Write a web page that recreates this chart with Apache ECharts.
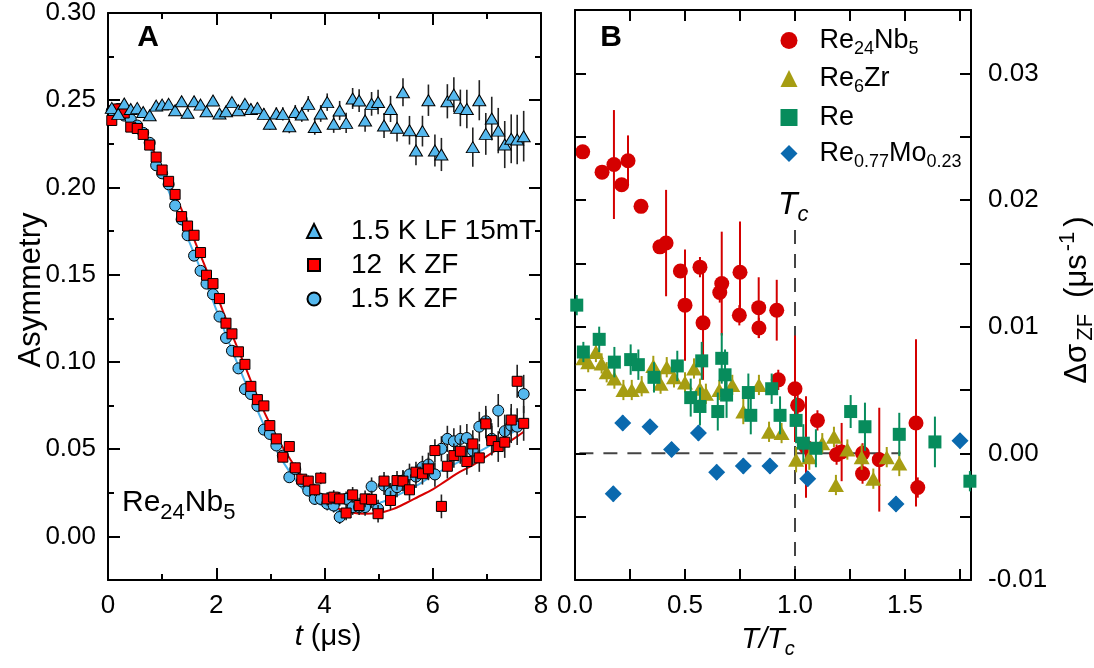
<!DOCTYPE html>
<html><head><meta charset="utf-8">
<script src="https://cdn.jsdelivr.net/npm/echarts@6/dist/echarts.min.js"></script>
<style>html,body{margin:0;padding:0;background:#fff}#c{width:1094px;height:668px}</style>
</head><body><div id="c"></div>
<script>
// ---------- Panel A data ----------
const tA = [0.07,0.19,0.30,0.42,0.54,0.65,0.77,0.89,1.00,1.12,1.24,1.36,1.47,1.59,1.71,1.82,1.94,2.06,2.18,2.29,2.41,2.53,2.64,2.76,2.88,2.99,3.11,3.23,3.35,3.46,3.58,3.70,3.82,3.93,4.05,4.17,4.28,4.40,4.52,4.64,4.75,4.87,4.99,5.10,5.22,5.34,5.45,5.57,5.69,5.81,5.92,6.04,6.16,6.27,6.39,6.51,6.63,6.74,6.86,6.98,7.09,7.21,7.33,7.45,7.56,7.68];
const lfTri = [0.2456,0.2422,0.2481,0.2450,0.2456,0.2433,0.2414,0.2469,0.2475,0.2479,
  0.2443,0.2494,0.2428,0.2494,0.2475,0.2437,0.2498,0.2424,0.2437,0.2489,
  0.2443,0.2479,0.2450,0.2456,0.2422,0.2365,0.2424,0.2422,0.2351,0.2433,
  0.2418,0.2479,0.2347,0.2424,0.2489,0.2365,0.2441,0.2370,0.2510,0.2498,
  0.2384,0.2479,0.2490,0.2355,0.2450,0.2342,0.2546,0.2328,0.2212,0.2323,
  0.2500,0.2212,0.2189,0.2494,0.2532,0.2456,0.2450,0.2231,0.2500,0.2307,
  0.2395,0.2326,0.2246,0.2279,0.2275,0.2294];
const lfTriErr = [0.0012,0.0012,0.0012,0.0012,0.0012,0.0012,0.0012,0.0012,0.0012,0.0012,
  0.0015,0.0015,0.0018,0.0018,0.0020,0.0020,0.0020,0.0022,0.0022,0.0025,
  0.0025,0.0028,0.0030,0.0030,0.0032,0.0035,0.0035,0.0038,0.0040,0.0040,
  0.0042,0.0045,0.0045,0.0048,0.0050,0.0052,0.0055,0.0058,0.0060,0.0065,
  0.0065,0.0068,0.0070,0.0072,0.0075,0.0078,0.0080,0.0082,0.0085,0.0088,
  0.0090,0.0092,0.0095,0.0098,0.0100,0.0105,0.0110,0.0112,0.0115,0.0120,
  0.0125,0.0130,0.0135,0.0140,0.0142,0.0145];
const zf12 = [0.2384,0.2450,0.2427,0.2346,0.2338,0.2304,0.2243,0.2174,0.2100,0.2035,
  0.1960,0.1833,0.1779,0.1726,0.1627,0.1497,0.1449,0.1363,0.1222,0.1161,
  0.1058,0.0986,0.0860,0.0784,0.0748,0.0635,0.0559,0.0454,0.0515,0.0393,
  0.0328,0.0317,0.0267,0.0334,0.0215,0.0225,0.0215,0.0134,0.0238,0.0177,
  0.0215,0.0212,0.0130,0.0317,0.0206,0.0320,0.0317,0.0267,0.0368,0.0359,
  0.0387,0.0492,0.0172,0.0402,0.0463,0.0488,0.0429,0.0530,0.0450,0.0645,
  0.0549,0.0515,0.0540,0.0667,0.0889,0.0648];
const zf12Err = [0.0010,0.0010,0.0010,0.0010,0.0010,0.0010,0.0010,0.0010,0.0010,0.0010,
  0.0012,0.0012,0.0012,0.0012,0.0012,0.0012,0.0012,0.0012,0.0012,0.0012,
  0.0015,0.0015,0.0018,0.0020,0.0020,0.0022,0.0025,0.0025,0.0028,0.0030,
  0.0030,0.0032,0.0035,0.0035,0.0038,0.0040,0.0040,0.0042,0.0045,0.0045,
  0.0048,0.0050,0.0050,0.0052,0.0055,0.0055,0.0058,0.0060,0.0060,0.0062,
  0.0065,0.0065,0.0068,0.0070,0.0070,0.0072,0.0075,0.0078,0.0080,0.0082,
  0.0085,0.0088,0.0090,0.0092,0.0095,0.0100];
const zf15 = [0.2440,0.2450,0.2412,0.2390,0.2355,0.2313,0.2256,0.2127,0.2081,0.2018,
  0.1896,0.1817,0.1726,0.1609,0.1522,0.1449,0.1388,0.1260,0.1137,0.1064,
  0.0963,0.0844,0.0816,0.0748,0.0612,0.0587,0.0521,0.0463,0.0339,0.0385,
  0.0315,0.0263,0.0215,0.0215,0.0187,0.0177,0.0111,0.0215,0.0168,0.0168,
  0.0168,0.0286,0.0158,0.0292,0.0248,0.0282,0.0320,0.0355,0.0343,0.0397,
  0.0412,0.0355,0.0502,0.0559,0.0545,0.0559,0.0564,0.0492,0.0629,0.0660,
  0.0559,0.0721,0.0603,0.0635,0.0629,0.0816];
const zf15Err = [0.0010,0.0010,0.0010,0.0010,0.0010,0.0010,0.0010,0.0010,0.0010,0.0010,
  0.0012,0.0012,0.0012,0.0012,0.0012,0.0012,0.0012,0.0012,0.0012,0.0012,
  0.0015,0.0015,0.0018,0.0020,0.0020,0.0022,0.0025,0.0025,0.0028,0.0030,
  0.0030,0.0032,0.0035,0.0035,0.0038,0.0040,0.0040,0.0042,0.0045,0.0045,
  0.0050,0.0052,0.0052,0.0055,0.0058,0.0058,0.0060,0.0062,0.0065,0.0065,
  0.0068,0.0070,0.0072,0.0075,0.0075,0.0078,0.0080,0.0082,0.0085,0.0088,
  0.0090,0.0095,0.0095,0.0100,0.0105,0.0110];
const fitT12 = [0,0.25,0.5,0.75,1,1.25,1.5,1.75,2,2.25,2.5,2.75,3,3.25,3.5,3.75,4,4.25,4.5,4.75,5,5.25,5.5,5.75,6,6.25,6.5,6.75,7,7.25,7.5,7.68];
const fit12 = [0.245,0.243,0.237,0.226,0.211,0.195,0.177,0.158,0.139,0.119,0.100,0.081,0.064,0.050,0.038,0.028,0.020,0.016,0.0137,0.0130,0.0135,0.0155,0.019,0.023,0.027,0.032,0.037,0.041,0.046,0.051,0.056,0.060];
const fitT15 = [0,0.25,0.5,0.75,1,1.25,1.5,1.75,2,2.25,2.5,2.75,3,3.25,3.5,3.75,4,4.25,4.5,4.75,5,5.25,5.5,5.75,6,6.25,6.5,6.75,7,7.25,7.5,7.65];
const fit15 = [0.245,0.243,0.236,0.224,0.207,0.188,0.169,0.150,0.130,0.110,0.091,0.073,0.056,0.042,0.031,0.022,0.017,0.0145,0.0145,0.016,0.019,0.022,0.026,0.030,0.035,0.039,0.043,0.047,0.051,0.056,0.060,0.063];

// ---------- Panel B data ----------
const nbX = [0.035,0.123,0.177,0.212,0.241,0.300,0.386,0.414,0.479,0.500,0.568,0.582,0.658,0.667,0.747,0.750,0.835,0.836,0.917,0.924,1.000,1.012,1.050,1.102,1.189,1.212,1.307,1.307,1.383,1.550,1.558];
const nbY = [0.0238,0.0222,0.0228,0.0212,0.0231,0.0195,0.0163,0.0166,0.0144,0.0117,0.0147,0.0103,0.0127,0.0134,0.0109,0.0143,0.0115,0.0099,0.0113,0.0058,0.0051,0.0038,0.0005,0.0026,-0.0001,0.0001,0.0000,-0.0016,-0.0005,0.0024,-0.0027];
const nbE = [0.0003,0.0005,0.0043,0.0005,0.0020,0.0005,0.0005,0.0042,0.0005,0.0044,0.0008,0.0045,0.0008,0.0041,0.0008,0.0040,0.0024,0.0008,0.0024,0.0008,0.0042,0.0008,0.0040,0.0008,0.0008,0.0023,0.0008,0.0008,0.0041,0.0066,0.0008];
const zrX = [0.038,0.060,0.095,0.121,0.144,0.179,0.220,0.258,0.303,0.356,0.389,0.417,0.450,0.500,0.541,0.568,0.595,0.656,0.715,0.765,0.836,0.882,0.939,1.005,1.065,1.124,1.177,1.186,1.238,1.303,1.356,1.417,1.474];
const zrY = [0.0075,0.0072,0.0080,0.0071,0.0064,0.0059,0.0050,0.0050,0.0053,0.0069,0.0055,0.0068,0.0060,0.0056,0.0067,0.0051,0.0047,0.0050,0.0054,0.0033,0.0054,0.0017,0.0016,-0.0005,-0.0003,0.0008,0.0013,-0.0025,0.0003,-0.0003,-0.0020,-0.0003,-0.0008];
const zrE = [0.0008,0.0008,0.0008,0.0008,0.0008,0.0008,0.0008,0.0008,0.0008,0.0008,0.0008,0.0008,0.0008,0.0008,0.0008,0.0008,0.0008,0.0008,0.0008,0.0010,0.0008,0.0008,0.0008,0.0010,0.0010,0.0008,0.0008,0.0008,0.0008,0.0010,0.0008,0.0008,0.0010];
const reX = [0.008,0.038,0.110,0.179,0.253,0.288,0.359,0.465,0.526,0.568,0.576,0.649,0.667,0.682,0.689,0.788,0.799,0.894,0.932,1.005,1.038,1.095,1.253,1.318,1.474,1.636,1.795];
const reY = [0.0117,0.0080,0.0090,0.0072,0.0074,0.0070,0.0060,0.0069,0.0044,0.0037,0.0073,0.0033,0.0075,0.0062,0.0046,0.0048,0.0030,0.0051,0.0030,0.0026,0.0008,0.0004,0.0033,0.0021,0.0015,0.0009,-0.0022];
const reE = [0.0008,0.0008,0.0010,0.0012,0.0012,0.0012,0.0012,0.0012,0.0015,0.0015,0.0015,0.0015,0.0020,0.0020,0.0018,0.0015,0.0015,0.0012,0.0015,0.0018,0.0015,0.0015,0.0013,0.0019,0.0017,0.0020,0.0008];
const moX = [0.174,0.217,0.341,0.439,0.561,0.644,0.765,0.886,1.058,1.459,1.750];
const moY = [-0.0032,0.0024,0.0021,0.0003,0.0016,-0.0015,-0.0010,-0.0010,-0.0020,-0.0040,0.0010];
const moE = [0.0006,0.0006,0.0006,0.0006,0.0006,0.0006,0.0006,0.0006,0.0006,0.0006,0.0006];

// tick labels
const ticksAx = [0,2,4,6,8];
const ticksAy = [0,0.05,0.10,0.15,0.20,0.25,0.30];
const ticksBx = [0,0.5,1.0,1.5];
const ticksBy = [-0.01,0,0.01,0.02,0.03];

// ---------- helpers ----------
const FONT = "'Liberation Sans', Arial, sans-serif";
const NARROW = "'Liberation Sans Narrow', 'Liberation Sans', Arial, sans-serif";
const BLK = '#000';

function axis(o) {
  return {
    type: 'value', gridIndex: o.grid, position: o.pos, min: o.min, max: o.max,
    interval: o.interval,
    splitLine: {show: false},
    axisLine: {show: o.line !== false, onZero: false, lineStyle: {color: BLK, width: 2}},
    axisTick: Object.assign({show: true, inside: true, length: o.tick || 6, lineStyle: {color: BLK, width: 2}},
      o.tickValues ? {customValues: o.tickValues} : {}),
    axisLabel: o.labels ? {show: true, customValues: o.labels, color: BLK,
      fontFamily: o.font || FONT, fontSize: o.fontSize || 26, margin: o.margin || 12,
      formatter: o.fmt} : {show: false},
    z: 5
  };
}
function pts(xs, ys) { return xs.map((x, i) => [x, ys[i]]); }
function errSeries(xs, ys, es, color, width, xi, yi, z) {
  return {
    type: 'custom', xAxisIndex: xi, yAxisIndex: yi, z: z, silent: true, clip: true,
    data: xs.map((x, i) => [x, ys[i] - es[i], ys[i] + es[i]]),
    encode: {x: 0, y: [1, 2]},
    renderItem: function (params, api) {
      const p1 = api.coord([api.value(0), api.value(1)]);
      const p2 = api.coord([api.value(0), api.value(2)]);
      return {type: 'line', shape: {x1: p1[0], y1: p1[1], x2: p2[0], y2: p2[1]},
        style: {stroke: color, lineWidth: width}};
    }
  };
}

const richA = {
  n: {fontSize: 28, fontFamily: FONT, color: BLK, lineHeight: 30}
};
const richB = {
  n: {fontSize: 27, fontFamily: FONT, color: BLK, lineHeight: 30},
  s: {fontSize: 18, fontFamily: FONT, color: BLK, lineHeight: 18, padding: [17, 0, 0, 0]}
};

const colA_blue = '#55B8EE';
const colA_red = '#FF0000';
const colB_red = '#D40000';
const colB_olive = '#A69D12';
const colB_teal = '#078C5C';
const colB_blue = '#0A69AE';

const xAxes = [
  axis({grid: 0, pos: 'bottom', min: 0, max: 8, interval: 1, tick: 6, labels: ticksAx, font: NARROW, fontSize: 26, margin: 13, fmt: v => String(v)}),
  axis({grid: 0, pos: 'bottom', min: 0, max: 8, interval: 1, tick: 12, line: false, tickValues: ticksAx}),
  axis({grid: 0, pos: 'top', min: 0, max: 8, interval: 1, tick: 6}),
  axis({grid: 0, pos: 'top', min: 0, max: 8, interval: 1, tick: 12, line: false, tickValues: ticksAx}),
  axis({grid: 1, pos: 'bottom', min: 0, max: 1.8, interval: 0.25, tick: 11, labels: ticksBx, font: NARROW, fontSize: 26, margin: 13, fmt: v => v.toFixed(1)}),
  axis({grid: 1, pos: 'top', min: 0, max: 1.8, interval: 0.25, tick: 11})
];
const yAxes = [
  axis({grid: 0, pos: 'left', min: -0.025, max: 0.30, interval: 0.025, tick: 6, labels: ticksAy, fontSize: 26, margin: 12, fmt: v => v.toFixed(2)}),
  axis({grid: 0, pos: 'left', min: -0.025, max: 0.30, interval: 0.025, tick: 12, line: false, tickValues: ticksAy}),
  axis({grid: 0, pos: 'right', min: -0.025, max: 0.30, interval: 0.025, tick: 6}),
  axis({grid: 0, pos: 'right', min: -0.025, max: 0.30, interval: 0.025, tick: 12, line: false, tickValues: ticksAy}),
  axis({grid: 1, pos: 'left', min: -0.01, max: 0.035, interval: 0.005, tick: 11}),
  axis({grid: 1, pos: 'right', min: -0.01, max: 0.035, interval: 0.005, tick: 11, labels: ticksBy, fontSize: 26, margin: 17, fmt: v => v.toFixed(2)})
];

const series = [
  // Panel A fits
  {type: 'line', name: 'fit15', xAxisIndex: 0, yAxisIndex: 0, data: pts(fitT15, fit15), smooth: true, showSymbol: false, z: 2,
    lineStyle: {color: '#4CB3EC', width: 2}, silent: true},
  {type: 'line', name: 'fit12', xAxisIndex: 0, yAxisIndex: 0, data: pts(fitT12, fit12), smooth: true, showSymbol: false, z: 2,
    lineStyle: {color: '#D80000', width: 2}, silent: true},
  errSeries(tA, zf15, zf15Err, '#222', 1.6, 0, 0, 3),
  {type: 'scatter', name: '1.5 K ZF', xAxisIndex: 0, yAxisIndex: 0, data: pts(tA, zf15), symbol: 'circle', symbolSize: 11, z: 4,
    itemStyle: {color: colA_blue, borderColor: BLK, borderWidth: 1, opacity: 1}},
  errSeries(tA, zf12, zf12Err, '#222', 1.6, 0, 0, 5),
  {type: 'scatter', name: '12  K ZF', xAxisIndex: 0, yAxisIndex: 0, data: pts(tA, zf12), symbol: 'rect', symbolSize: 10, z: 6,
    itemStyle: {color: colA_red, borderColor: BLK, borderWidth: 1, opacity: 1}},
  errSeries(tA, lfTri, lfTriErr, '#222', 1.6, 0, 0, 7),
  {type: 'scatter', name: '1.5 K LF 15mT', xAxisIndex: 0, yAxisIndex: 0, data: pts(tA, lfTri), symbol: 'triangle', symbolSize: [13, 11], z: 8,
    itemStyle: {color: colA_blue, borderColor: BLK, borderWidth: 1, opacity: 1}},
  // Panel B dashed guides
  {type: 'line', xAxisIndex: 4, yAxisIndex: 4, data: [[0.02, 0], [1.48, 0]], showSymbol: false, z: 2, silent: true,
    lineStyle: {color: '#444', width: 2, type: [14, 10]}},
  {type: 'line', xAxisIndex: 4, yAxisIndex: 4, data: [[1, -0.01], [1, 0.0177]], showSymbol: false, z: 2, silent: true,
    lineStyle: {color: '#444', width: 2, type: [14, 10]}},
  errSeries(nbX, nbY, nbE, colB_red, 2, 4, 4, 3),
  {type: 'scatter', name: 'Re24Nb5', xAxisIndex: 4, yAxisIndex: 4, data: pts(nbX, nbY), symbol: 'circle', symbolSize: 15, z: 4,
    itemStyle: {color: colB_red, opacity: 1}},
  errSeries(zrX, zrY, zrE, colB_olive, 2, 4, 4, 5),
  {type: 'scatter', name: 'Re6Zr', xAxisIndex: 4, yAxisIndex: 4, data: pts(zrX, zrY), symbol: 'triangle', symbolSize: [16, 14], z: 6,
    itemStyle: {color: colB_olive, opacity: 1}},
  errSeries(reX, reY, reE, colB_teal, 2, 4, 4, 7),
  {type: 'scatter', name: 'Re', xAxisIndex: 4, yAxisIndex: 4, data: pts(reX, reY), symbol: 'rect', symbolSize: 13, z: 8,
    itemStyle: {color: colB_teal, opacity: 1}},
  errSeries(moX, moY, moE, colB_blue, 2, 4, 4, 9),
  {type: 'scatter', name: 'Re0.77Mo0.23', xAxisIndex: 4, yAxisIndex: 4, data: pts(moX, moY), symbol: 'diamond', symbolSize: 17, z: 10,
    itemStyle: {color: colB_blue, opacity: 1}}
];

function leg(name, cx, top, size, padLeft, rich, fmt) {
  return {
    data: [name], left: cx - size / 2, top: top, orient: 'vertical', padding: 0,
    itemWidth: size, itemHeight: size, selectedMode: false,
    formatter: fmt || (n => '{n|' + n + '}'),
    textStyle: {color: BLK, fontFamily: FONT, fontSize: 27, padding: [0, 0, 0, padLeft], rich: rich}
  };
}
const legends = [
  leg('1.5 K LF 15mT', 313, 217, 14, 25, richA),
  leg('12  K ZF', 313, 251, 12, 26, richA),
  leg('1.5 K ZF', 313, 285, 13, 25, richA),
  leg('Re24Nb5', 789, 23, 17, 17, richB, () => '{n|Re}{s|24}{n|Nb}{s|5}'),
  leg('Re6Zr', 789, 61, 17, 17, richB, () => '{n|Re}{s|6}{n|Zr}'),
  leg('Re', 789, 100, 17, 17, richB, () => '{n|Re}{s| }'),
  leg('Re0.77Mo0.23', 789, 136, 17, 17, richB, () => '{n|Re}{s|0.77}{n|Mo}{s|0.23}')
];

const graphics = [
  {type: 'text', x: 148, y: 38, style: {text: 'A', fontFamily: FONT, fontWeight: 'bold', fontSize: 30, fill: BLK, align: 'center', verticalAlign: 'middle'}},
  {type: 'text', x: 611, y: 38, style: {text: 'B', fontFamily: FONT, fontWeight: 'bold', fontSize: 30, fill: BLK, align: 'center', verticalAlign: 'middle'}},
  {type: 'text', x: 122, y: 503, style: {text: '{n|Re}{s|24}{n|Nb}{s|5}', align: 'left', verticalAlign: 'middle',
    rich: {n: {fontSize: 30, fontFamily: FONT, fill: BLK, lineHeight: 32}, s: {fontSize: 22, fontFamily: FONT, fill: BLK, lineHeight: 22, padding: [19, 0, 0, 0]}}}},
  {type: 'text', x: 778, y: 205, style: {text: '{t|T}{c|c}', align: 'left', verticalAlign: 'middle',
    rich: {t: {fontSize: 32, fontStyle: 'italic', fontFamily: FONT, fill: BLK, lineHeight: 34}, c: {fontSize: 22, fontStyle: 'italic', fontFamily: FONT, fill: BLK, lineHeight: 22, padding: [20, 0, 0, 0]}}}},
  {type: 'text', x: 31, y: 290, rotation: Math.PI / 2, style: {text: 'Asymmetry', fontFamily: FONT, fontSize: 31, fill: BLK, align: 'center', verticalAlign: 'middle'}},
  {type: 'text', x: 1077, y: 300, rotation: Math.PI / 2, style: {text: '{n|Δσ}{s|ZF}{g|(μs}{p|-1}{q|)}', align: 'center', verticalAlign: 'middle',
    rich: {
      n: {fontSize: 31, fontFamily: FONT, fill: BLK, lineHeight: 32},
      g: {fontSize: 31, fontFamily: FONT, fill: BLK, lineHeight: 32, padding: [0, 0, 0, 16]},
      q: {fontSize: 31, fontFamily: FONT, fill: BLK, lineHeight: 32, padding: [0, 0, 0, 5]},
      s: {fontSize: 22, fontFamily: FONT, fill: BLK, lineHeight: 22, padding: [18, 0, 0, 3]},
      p: {fontSize: 22, fontFamily: FONT, fill: BLK, lineHeight: 22, padding: [0, 0, 18, 3]}}}},
  {type: 'text', x: 328, y: 637, style: {text: '{i|t}{n| (μs)}', align: 'center', verticalAlign: 'middle',
    rich: {i: {fontSize: 29, fontStyle: 'italic', fontFamily: NARROW, fill: BLK}, n: {fontSize: 29, fontFamily: NARROW, fill: BLK}}}},
  {type: 'text', x: 768, y: 640, style: {text: '{i|T/T}{s|c}', align: 'center', verticalAlign: 'middle',
    rich: {i: {fontSize: 29, fontStyle: 'italic', fontFamily: NARROW, fill: BLK, lineHeight: 32}, s: {fontSize: 20, fontStyle: 'italic', fontFamily: NARROW, fill: BLK, lineHeight: 20, padding: [18, 0, 0, 0]}}}}
];

const chart = echarts.init(document.getElementById('c'), null, {renderer: 'canvas'});
chart.setOption({
  animation: false,
  backgroundColor: '#fff',
  grid: [
    {left: 108, top: 10, width: 433, height: 570},
    {left: 575, top: 10, width: 396, height: 570}
  ],
  xAxis: xAxes,
  yAxis: yAxes,
  legend: legends,
  series: series,
  graphic: graphics
});
</script></body></html>
